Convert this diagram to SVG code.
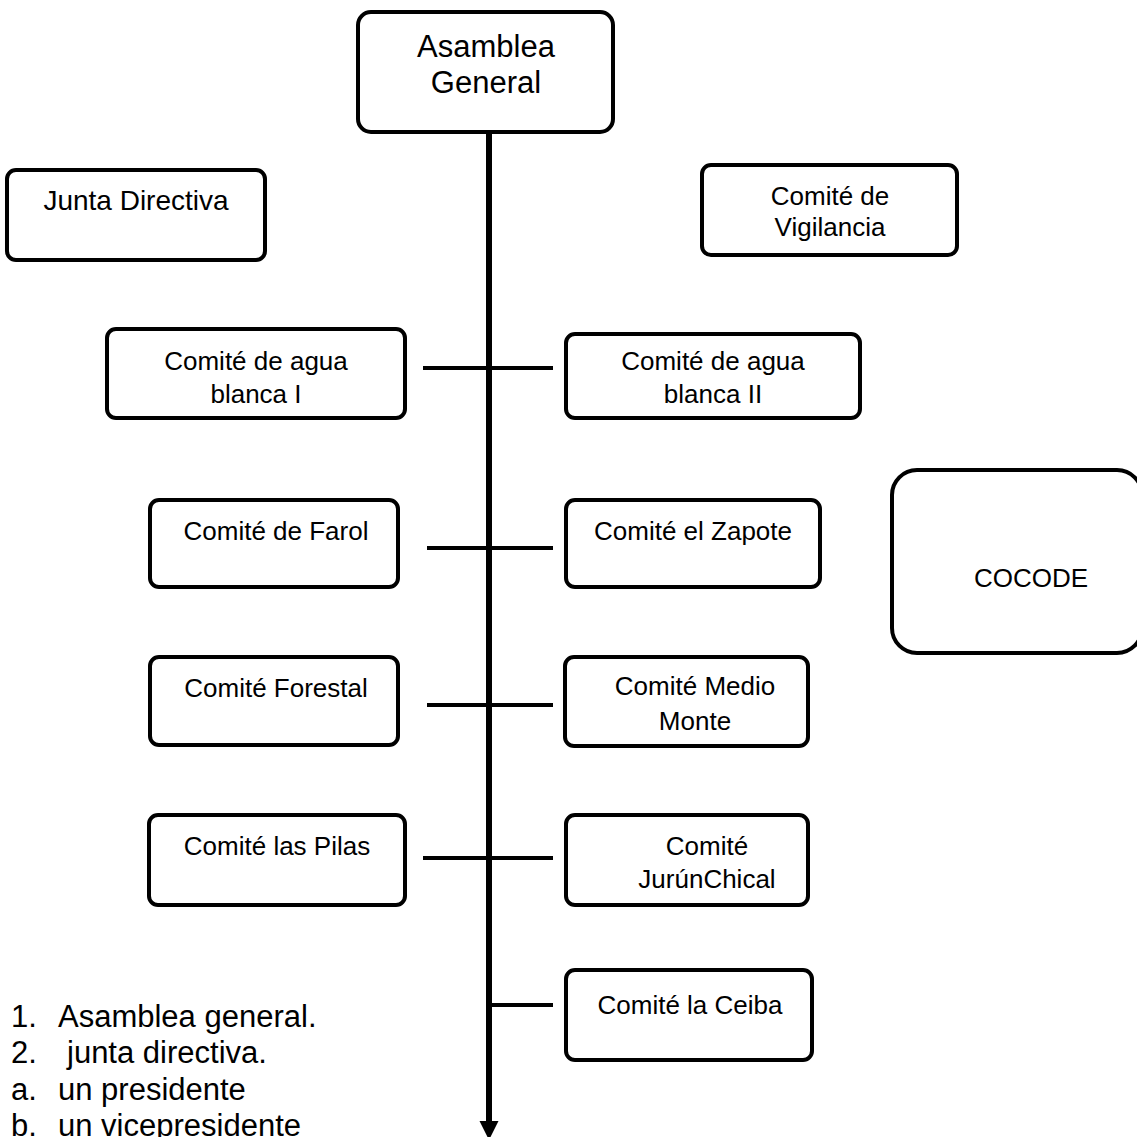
<svg xmlns="http://www.w3.org/2000/svg" width="1137" height="1137" viewBox="0 0 1137 1137">
<style>
.box{fill:#fff;stroke:#000;stroke-width:4}
text{font-family:"Liberation Sans",Arial,sans-serif;fill:#000}
.t{font-size:26px;text-anchor:middle}
.big{font-size:31px;text-anchor:middle}
.list{font-size:31px}
.conn{stroke:#000;stroke-width:4;fill:none}
.head{fill:#000;stroke:none}
</style>
<g id="connectors">
<line class="conn" x1="489" y1="132" x2="489" y2="1124" style="stroke-width:6"/>
<path class="head" d="M479.5,1121 L498.5,1121 L489,1140 Z"/>
<line class="conn" x1="423" y1="368" x2="553" y2="368"/>
<line class="conn" x1="427" y1="548" x2="553" y2="548"/>
<line class="conn" x1="427" y1="705" x2="553" y2="705"/>
<line class="conn" x1="423" y1="858" x2="553" y2="858"/>
<line class="conn" x1="489" y1="1005" x2="553" y2="1005"/>
</g>
<g id="asamblea">
<rect class="box" x="358" y="12" width="255" height="120" rx="13"/>
<text class="big" x="486" y="57">Asamblea</text>
<text class="big" x="486" y="93">General</text>
</g>
<g id="junta">
<rect class="box" x="7" y="170" width="258" height="90" rx="9"/>
<text x="136" y="210" style="font-size:28px;text-anchor:middle">Junta Directiva</text>
</g>
<g id="vigilancia">
<rect class="box" x="702" y="165" width="255" height="90" rx="9"/>
<text class="t" x="830" y="205">Comité de</text>
<text class="t" x="830" y="236">Vigilancia</text>
</g>
<g id="agua1">
<rect class="box" x="107" y="329" width="298" height="89" rx="9"/>
<text class="t" x="256" y="370">Comité de agua</text>
<text class="t" x="256" y="403">blanca I</text>
</g>
<g id="agua2">
<rect class="box" x="566" y="334" width="294" height="84" rx="9"/>
<text class="t" x="713" y="370">Comité de agua</text>
<text class="t" x="713" y="403">blanca II</text>
</g>
<g id="cocode">
<rect class="box" x="892" y="470" width="250" height="183" rx="25"/>
<text x="1031" y="587" style="font-size:26px;text-anchor:middle">COCODE</text>
</g>
<g id="farol">
<rect class="box" x="150" y="500" width="248" height="87" rx="9"/>
<text class="t" x="276" y="540">Comité de Farol</text>
</g>
<g id="zapote">
<rect class="box" x="566" y="500" width="254" height="87" rx="9"/>
<text class="t" x="693" y="540">Comité el Zapote</text>
</g>
<g id="forestal">
<rect class="box" x="150" y="657" width="248" height="88" rx="9"/>
<text class="t" x="276" y="697">Comité Forestal</text>
</g>
<g id="medio">
<rect class="box" x="565" y="657" width="243" height="89" rx="9"/>
<text class="t" x="695" y="695">Comité Medio</text>
<text class="t" x="695" y="730">Monte</text>
</g>
<g id="pilas">
<rect class="box" x="149" y="815" width="256" height="90" rx="9"/>
<text class="t" x="277" y="855">Comité las Pilas</text>
</g>
<g id="jurun">
<rect class="box" x="566" y="815" width="242" height="90" rx="9"/>
<text class="t" x="707" y="855">Comité</text>
<text class="t" x="707" y="888">JurúnChical</text>
</g>
<g id="ceiba">
<rect class="box" x="566" y="970" width="246" height="90" rx="9"/>
<text class="t" x="690" y="1014">Comité la Ceiba</text>
</g>
<g id="list">
<text class="list" x="11" y="1027">1.</text>
<text class="list" x="58" y="1027">Asamblea general.</text>
<text class="list" x="11" y="1063">2.</text>
<text class="list" x="67" y="1063">junta directiva.</text>
<text class="list" x="11" y="1100">a.</text>
<text class="list" x="58" y="1100">un presidente</text>
<text class="list" x="11" y="1136">b.</text>
<text class="list" x="58" y="1136">un vicepresidente</text>
</g>
</svg>
